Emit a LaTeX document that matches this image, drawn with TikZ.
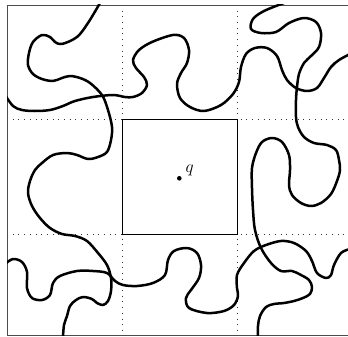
\documentclass[tikz,border=0pt]{standalone}
\begin{document}
\begin{tikzpicture}[x=1pt,y=-1pt,
  gridline/.style={line width=0.9pt, dash pattern=on 0.9pt off 4.8pt, black!80},
  framel/.style={line width=0.9pt, black!70},
  curve/.style={line width=2.5pt, line cap=round, line join=round},
  sq/.style={line width=0.8pt}]
\useasboundingbox (0,0) rectangle (348,337);
\begin{scope}
\clip (7,5) rectangle (352,335);
\draw[gridline] (7,119.5) -- (352,119.5);
\draw[gridline] (7,234.7) -- (352,234.7);
\draw[gridline] (122.7,5) -- (122.7,335);
\draw[gridline] (237.3,5) -- (237.3,335);
\draw[framel] (350,5) -- (7,5) -- (7,335) -- (350,335);
% curve A
\draw[curve] plot[smooth, tension=0.55] coordinates {
 (100,3) (88,23) (77,37) (62,44) (55,42) (50,37) (42,35) (33,42) (29,53) (28,65) (33,74) (42,79) (53,81) (62,78) (70,76) (80,78) (90,83) (102,95) (108,110) (112,127) (111,140) (107,152) (98,157) (88,159) (77,155) (67,153) (53,155) (42,163) (35,170) (30,181) (28,193) (32,206) (40,218) (50,228) (62,234) (75,236) (87,241) (98,253) (107,265) (111,278) (111,291) (108,301) (103,305) (97,303) (92,299) (83,297) (76,300) (70,306) (67,316) (64,325) (63,337)};
% curve B
\draw[curve] plot[smooth, tension=0.55] coordinates {
 (5,95) (13,106) (22,110) (35,111) (50,110) (63,106) (75,101) (93,97) (113,95) (125,97) (133,97) (142,93) (147,85) (144,77) (136,68) (133,60) (139,50) (152,42) (173,35) (184,38) (189,50) (187,63) (181,73) (177,84) (180,98) (190,107) (204,111) (221,105) (233,94) (239,82) (241,67) (246,54) (255,48) (267,48) (277,56) (282,70) (287,80) (296,88) (307,91) (317,88) (324,78) (331,67) (339,60) (350,54)};
% curve C
\draw[curve] plot[smooth, tension=0.55] coordinates {
 (284,3) (264,11) (253,19) (251,29) (261,33) (276,32) (289,23) (304,18) (316,22) (321,33) (319,47) (311,56) (304,63) (299,74) (297,87) (296,100) (296,117) (298,127) (304,137) (314,143) (327,145) (336,150) (339,160) (340,170) (337,181) (331,194) (321,203) (311,206) (301,203) (292,195) (289,185) (290,170) (289,155) (282,142) (272,138) (262,142) (256,153) (252,168) (252,188) (253,210) (255,230) (261,248) (271,263) (281,271) (292,271) (301,275) (309,280) (312,287) (310,294) (303,298) (294,301) (284,303) (274,304) (266,307) (260,316) (258,326) (258,337)};
% curve D
\draw[curve] plot[smooth, tension=0.55] coordinates {
 (5,264) (13,259) (22,262) (27,272) (27,288) (32,298) (42,300) (50,295) (53,283) (60,276) (77,271) (93,271) (107,273) (115,281) (123,285) (137,286) (153,283) (165,275) (168,260) (174,251) (187,248) (197,253) (201,265) (199,278) (191,290) (186,298) (189,308) (207,313) (224,311) (234,305) (238,296) (237,288) (237,275) (244,263) (254,251) (266,245) (281,241) (294,243) (306,251) (312,261) (317,273) (326,278) (331,275) (334,265) (341,253) (350,249)};
\end{scope}
\draw[sq] (122.7,119.5) rectangle (237.3,234.7);
\fill (179.3,178.3) circle (2.3pt);
\node[anchor=base west, inner sep=0pt, font=\fontsize{17}{19}\selectfont] (q) at (185.5,172.5) {$q$};
\end{tikzpicture}
\end{document}
